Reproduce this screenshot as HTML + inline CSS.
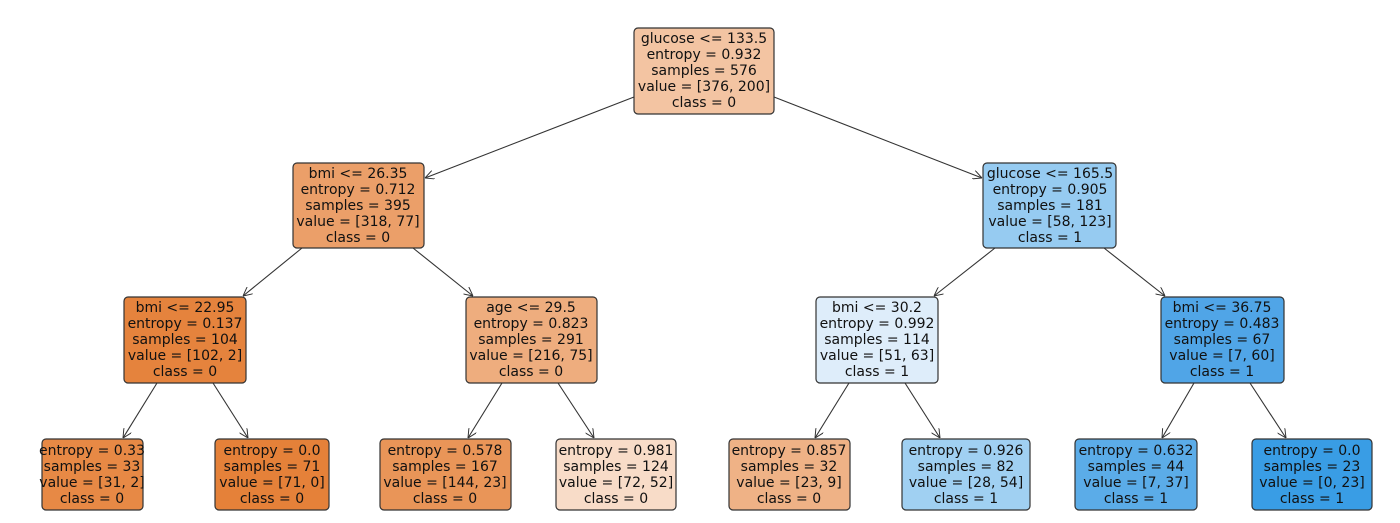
<!DOCTYPE html>
<html><head><meta charset="utf-8"><style>
html,body{margin:0;padding:0;background:#fff;}
svg{display:block;}
text{font-family:"DejaVu Sans","Liberation Sans",sans-serif;font-size:14px;fill:#111;text-anchor:middle;}
rect{stroke:#333;stroke-width:1.2;}
line{stroke:#333;stroke-width:1.1;}
.ah{fill:none;stroke:#333;stroke-width:1.1;}
</style></head><body>
<svg width="1400" height="523" viewBox="0 0 1400 523" xmlns="http://www.w3.org/2000/svg">
<defs><marker id="a" viewBox="0 0 10 10" refX="10" refY="5" markerWidth="9" markerHeight="9" orient="auto" markerUnits="userSpaceOnUse"><path d="M0,0 L10,5 L0,10" class="ah"/></marker></defs>
<line x1="634" y1="97" x2="425" y2="178" marker-end="url(#a)"/>
<line x1="774" y1="97" x2="982" y2="178" marker-end="url(#a)"/>
<line x1="302" y1="248" x2="243" y2="296" marker-end="url(#a)"/>
<line x1="413" y1="248" x2="473" y2="296" marker-end="url(#a)"/>
<line x1="995" y1="248" x2="934" y2="296" marker-end="url(#a)"/>
<line x1="1104" y1="248" x2="1165" y2="296" marker-end="url(#a)"/>
<line x1="157" y1="383" x2="123" y2="438" marker-end="url(#a)"/>
<line x1="213" y1="383" x2="248" y2="438" marker-end="url(#a)"/>
<line x1="502" y1="383" x2="468" y2="438" marker-end="url(#a)"/>
<line x1="558" y1="383" x2="594" y2="438" marker-end="url(#a)"/>
<line x1="849" y1="383" x2="815" y2="438" marker-end="url(#a)"/>
<line x1="905" y1="383" x2="940" y2="438" marker-end="url(#a)"/>
<line x1="1194" y1="383" x2="1162" y2="438" marker-end="url(#a)"/>
<line x1="1250" y1="383" x2="1286" y2="438" marker-end="url(#a)"/>

<rect x="634" y="28" width="140" height="86" rx="4" fill="#f3c4a2"/>
<text x="704" y="43">glucose &lt;= 133.5</text><text x="704" y="59">entropy = 0.932</text><text x="704" y="75">samples = 576</text><text x="704" y="91">value = [376, 200]</text><text x="704" y="107">class = 0</text>

<rect x="293" y="163" width="131" height="85" rx="4" fill="#eb9f69"/>
<text x="358" y="178">bmi &lt;= 26.35</text><text x="358" y="194">entropy = 0.712</text><text x="358" y="210">samples = 395</text><text x="358" y="226">value = [318, 77]</text><text x="358" y="242">class = 0</text>

<rect x="983" y="163" width="133" height="85" rx="4" fill="#96cbf1"/>
<text x="1050" y="178">glucose &lt;= 165.5</text><text x="1050" y="194">entropy = 0.905</text><text x="1050" y="210">samples = 181</text><text x="1050" y="226">value = [58, 123]</text><text x="1050" y="242">class = 1</text>

<rect x="124" y="297" width="122" height="86" rx="4" fill="#e5833d"/>
<text x="185" y="312">bmi &lt;= 22.95</text><text x="185" y="328">entropy = 0.137</text><text x="185" y="344">samples = 104</text><text x="185" y="360">value = [102, 2]</text><text x="185" y="376">class = 0</text>

<rect x="466" y="297" width="131" height="86" rx="4" fill="#eead7e"/>
<text x="531" y="312">age &lt;= 29.5</text><text x="531" y="328">entropy = 0.823</text><text x="531" y="344">samples = 291</text><text x="531" y="360">value = [216, 75]</text><text x="531" y="376">class = 0</text>

<rect x="816" y="297" width="122" height="86" rx="4" fill="#deedfa"/>
<text x="877" y="312">bmi &lt;= 30.2</text><text x="877" y="328">entropy = 0.992</text><text x="877" y="344">samples = 114</text><text x="877" y="360">value = [51, 63]</text><text x="877" y="376">class = 1</text>

<rect x="1161" y="297" width="123" height="86" rx="4" fill="#50a5e7"/>
<text x="1222" y="312">bmi &lt;= 36.75</text><text x="1222" y="328">entropy = 0.483</text><text x="1222" y="344">samples = 67</text><text x="1222" y="360">value = [7, 60]</text><text x="1222" y="376">class = 1</text>

<rect x="42" y="439" width="101" height="71" rx="4" fill="#e78945"/>
<text x="92" y="455">entropy = 0.33</text><text x="92" y="471">samples = 33</text><text x="92" y="487">value = [31, 2]</text><text x="92" y="503">class = 0</text>

<rect x="215" y="439" width="114" height="71" rx="4" fill="#e58139"/>
<text x="272" y="455">entropy = 0.0</text><text x="272" y="471">samples = 71</text><text x="272" y="487">value = [71, 0]</text><text x="272" y="503">class = 0</text>

<rect x="380" y="439" width="131" height="71" rx="4" fill="#e99558"/>
<text x="445" y="455">entropy = 0.578</text><text x="445" y="471">samples = 167</text><text x="445" y="487">value = [144, 23]</text><text x="445" y="503">class = 0</text>

<rect x="556" y="439" width="120" height="71" rx="4" fill="#f8dcc8"/>
<text x="616" y="455">entropy = 0.981</text><text x="616" y="471">samples = 124</text><text x="616" y="487">value = [72, 52]</text><text x="616" y="503">class = 0</text>

<rect x="729" y="439" width="121" height="71" rx="4" fill="#efb286"/>
<text x="789" y="455">entropy = 0.857</text><text x="789" y="471">samples = 32</text><text x="789" y="487">value = [23, 9]</text><text x="789" y="503">class = 0</text>

<rect x="902" y="439" width="128" height="71" rx="4" fill="#a0d0f2"/>
<text x="966" y="455">entropy = 0.926</text><text x="966" y="471">samples = 82</text><text x="966" y="487">value = [28, 54]</text><text x="966" y="503">class = 1</text>

<rect x="1075" y="439" width="122" height="71" rx="4" fill="#5bace8"/>
<text x="1136" y="455">entropy = 0.632</text><text x="1136" y="471">samples = 44</text><text x="1136" y="487">value = [7, 37]</text><text x="1136" y="503">class = 1</text>

<rect x="1252" y="439" width="120" height="71" rx="4" fill="#399de5"/>
<text x="1312" y="455">entropy = 0.0</text><text x="1312" y="471">samples = 23</text><text x="1312" y="487">value = [0, 23]</text><text x="1312" y="503">class = 1</text>
</svg>
</body></html>
